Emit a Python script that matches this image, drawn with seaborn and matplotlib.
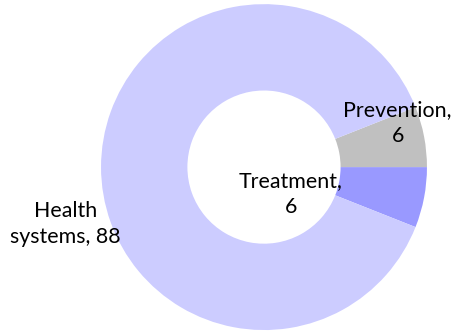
import matplotlib
matplotlib.use("Agg")
import matplotlib.pyplot as plt
import seaborn as sns

# slice data (counter-clockwise from the start angle)
categories = ["Treatment", "Prevention", "Health systems"]
values = [6, 6, 88]
colors = ["#9999ff", "#c0c0c0", "#ccccff"]
label_text = ["Treatment,\n6", "Prevention,\n6", "Health\nsystems, 88"]
label_pos = [(0.165, -0.165), (0.82, 0.27), (-1.22, -0.35)]

sns.set_theme(style="white")
plt.rcParams["font.family"] = ["Lato", "DejaVu Sans"]

fig = plt.figure(figsize=(4.54, 3.35), dpi=100)
ax = fig.add_axes([0, 0, 1, 1])

start = -360 * values[0] / sum(values)
ax.pie(values, colors=colors, startangle=start, counterclock=True,
       radius=1.0, wedgeprops=dict(width=0.53, linewidth=0))

for txt, (x, y) in zip(label_text, label_pos):
    ax.text(x, y, txt, ha="center", va="center", fontsize=15.4,
            color="black", linespacing=1.42)

ax.set_xlim(-1.62, 1.166)
ax.set_ylim(-1.03, 1.025)
ax.set_aspect("equal")
ax.axis("off")

fig.savefig("out.png", dpi=100, facecolor="white")
plt.close(fig)
